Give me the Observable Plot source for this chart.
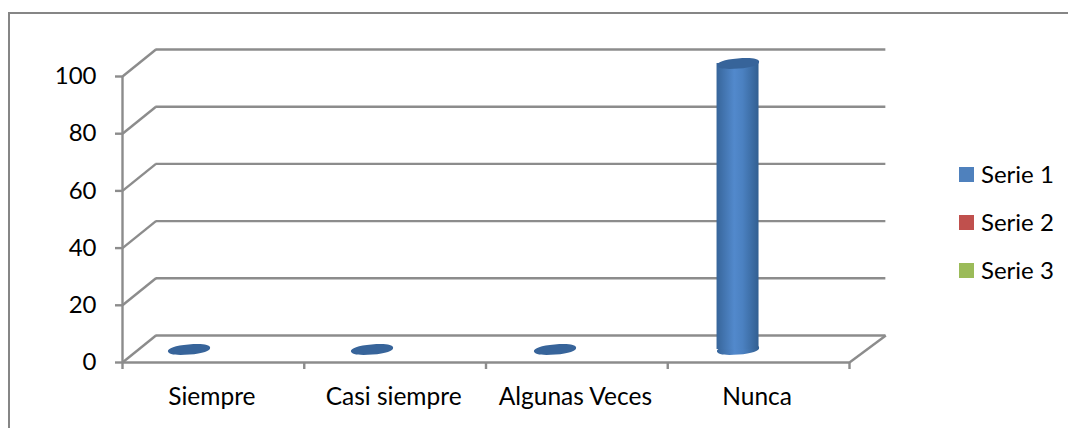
<!DOCTYPE html>
<html>
<head>
<meta charset="utf-8">
<script src="https://cdn.jsdelivr.net/npm/d3@7"></script>
<script src="https://cdn.jsdelivr.net/npm/@observablehq/plot@0.6"></script>
<style>
  html, body { margin: 0; padding: 0; background: #fff; overflow: hidden; }
  #page { position: relative; width: 1068px; height: 428px; font-family: Lato, sans-serif; }
  #edge { position: absolute; left: 8px; top: 12px; right: 0; bottom: 0; border-left: 2px solid #868686; border-top: 2px solid #868686; }
  #chart { position: absolute; left: 0; top: 0; }
  #legend { position: absolute; left: 959px; top: 150px; font-size: 24px; color: #000; }
  #legend div { display: flex; align-items: center; height: 48px; white-space: nowrap; }
  #legend i { display: block; width: 15px; height: 15px; margin-right: 7px; }
  #legend span { position: relative; top: -1px; }
</style>
</head>
<body>
<div id="page"><div id="edge"></div><div id="chart"></div><div id="legend"></div></div>
<script>
const categories = ["Siempre", "Casi siempre", "Algunas Veces", "Nunca"];
const serie1 = [0, 0, 0, 100];
const seriesNames = ["Serie 1", "Serie 2", "Serie 3"];
const seriesColors = ["#4f81bd", "#c0504d", "#9bbb59"];
const yTicks = [0, 20, 40, 60, 80, 100];

// Oblique depth of the 3D box, in data units (the back of the box is slightly wider)
const depthX = 0.184, depthY = 9.44, backStretch = 0.016;
const barOffset = 0.366, barStep = 1.0069, barWidth = 0.231, midDepth = 4.55;
const gridColor = "#8c8c8c", gridWidth = 2.4;
const line = {stroke: gridColor, strokeWidth: gridWidth, strokeOpacity: 1};

const rows = categories.map((c, i) => ({c, i, v: serie1[i], x: i * barStep + barOffset}));
const edges = d3.range(categories.length + 1);

const ellipse = {
  draw(ctx, size) {
    const a = Math.sqrt(size / Math.PI), b = a * 0.24, t = -5 * Math.PI / 180, k = 0.63;
    const P = (u, v) => [u * a * Math.cos(t) - v * b * Math.sin(t), u * a * Math.sin(t) + v * b * Math.cos(t)];
    ctx.moveTo(...P(1, 0));
    ctx.bezierCurveTo(...P(1, k), ...P(k, 1), ...P(0, 1));
    ctx.bezierCurveTo(...P(-k, 1), ...P(-1, k), ...P(-1, 0));
    ctx.bezierCurveTo(...P(-1, -k), ...P(-k, -1), ...P(0, -1));
    ctx.bezierCurveTo(...P(k, -1), ...P(1, -k), ...P(1, 0));
    ctx.closePath();
  }
};

const tall = rows.filter(d => d.v > 0);

const plot = Plot.plot({
  width: 1068, height: 428,
  marginLeft: 122, marginRight: 219, marginTop: 76, marginBottom: 66,
  x: {domain: [0, categories.length], axis: null},
  y: {domain: [0, 100], axis: null},
  style: {fontFamily: "Lato, sans-serif", fontSize: "24px", background: "transparent", color: "#000"},
  marks: [
    // back wall gridlines
    Plot.ruleY(yTicks, {x1: depthX, x2: categories.length + depthX + backStretch, y: t => t + depthY, ...line}),
    // side wall diagonals
    Plot.link(yTicks, {x1: 0, x2: depthX, y1: t => t, y2: t => t + depthY, ...line}),
    Plot.link([0], {x1: categories.length, x2: categories.length + depthX + backStretch, y1: 0, y2: depthY, ...line}),
    // front axes
    Plot.ruleX([0], {y1: 0, y2: 100, ...line}),
    Plot.ruleY([0], {x1: 0, x2: categories.length, ...line}),
    Plot.axisY({ticks: yTicks, tickSize: 7, tickPadding: 19, ...line, fill: "#000", label: null, fontSize: 24}),
    Plot.axisX({ticks: edges, tickSize: 7, tickFormat: () => "", ...line, label: null}),
    Plot.axisX({ticks: categories.map((c, i) => i + 0.5), tickSize: 0, tickPadding: 25, dx: -1.5, tickFormat: v => categories[v - 0.5], fill: "#000", stroke: "none", label: null, fontSize: 24.5}),
    // cylinder: foot, body, then top cap
    Plot.dot(tall, {x: "x", y: midDepth, r: 21.2, symbol: ellipse, fill: "url(#cyl)", stroke: "none"}),
    Plot.rect(tall, {x1: d => d.x - barWidth / 2, x2: d => d.x + barWidth / 2, y1: midDepth, y2: d => d.v + midDepth, fill: "url(#cyl)", inset: 0}),
    Plot.dot(rows, {x: "x", y: d => d.v + midDepth, r: 21.2, symbol: ellipse, fill: "#37649a", stroke: "none"})
  ]
});

plot.insertAdjacentHTML("afterbegin",
  `<defs><linearGradient id="cyl" x1="0" x2="1" y1="0" y2="0">
     <stop offset="0" stop-color="#37659a"/>
     <stop offset="0.42" stop-color="#5289cc"/>
     <stop offset="0.62" stop-color="#4b81c1"/>
     <stop offset="1" stop-color="#325f91"/>
   </linearGradient></defs>`);
document.getElementById("chart").append(plot);

d3.select("#legend").selectAll("div").data(seriesNames).join("div")
  .html((d, i) => `<i style="background:${seriesColors[i]}"></i><span>${d}</span>`);
</script>
</body>
</html>
